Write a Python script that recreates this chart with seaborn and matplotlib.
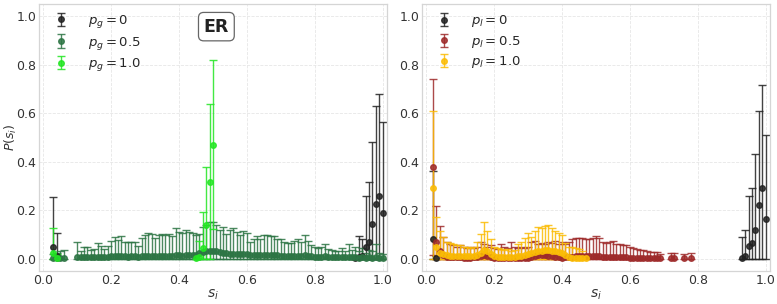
import matplotlib
matplotlib.use("Agg")
import matplotlib.pyplot as plt
import numpy as np
import seaborn as sns

# ---------------- data ----------------
# left panel (ER, p_g)
g0_s = [0.03, 0.04, 0.92, 0.93, 0.94, 0.95, 0.96, 0.97, 0.98, 0.99, 1.00]
g0_mean = [0.047, 0.012, 0.004, 0.008, 0.010, 0.050, 0.070, 0.143, 0.227, 0.260, 0.190]
g0_top = [0.256, 0.104, 0.010, 0.093, 0.080, 0.260, 0.316, 0.480, 0.630, 0.680, 0.565]

g5_s = [0.03, 0.04, 0.05, 0.06] + list(np.round(np.arange(10, 101) / 100, 2))
g5_mean = [0.005, 0.005, 0.004, 0.005,
           0.008, 0.006, 0.007, 0.006, 0.006, 0.007, 0.008, 0.007, 0.006, 0.008,
           0.010, 0.011, 0.010, 0.012, 0.010, 0.009, 0.010, 0.010, 0.009, 0.011,
           0.012, 0.013, 0.012, 0.011, 0.012, 0.013, 0.012, 0.013, 0.012, 0.015,
           0.014, 0.013, 0.015, 0.014, 0.014, 0.016, 0.022, 0.026, 0.030, 0.032,
           0.032, 0.030, 0.027, 0.025, 0.022, 0.020, 0.021, 0.019, 0.018, 0.020,
           0.018, 0.014, 0.016, 0.017, 0.015, 0.016, 0.016, 0.015, 0.016, 0.014,
           0.013, 0.012, 0.012, 0.011, 0.012, 0.013, 0.012, 0.014, 0.012, 0.010,
           0.009, 0.009, 0.008, 0.010, 0.008, 0.007, 0.006, 0.006, 0.007, 0.006,
           0.008, 0.006, 0.007, 0.005, 0.006, 0.005, 0.006, 0.005, 0.007, 0.005, 0.004]
g5_top = [0.020, 0.025, 0.030, 0.035,
          0.068, 0.031, 0.048, 0.048, 0.036, 0.042, 0.066, 0.052, 0.042, 0.054,
          0.075, 0.090, 0.077, 0.093, 0.069, 0.069, 0.069, 0.069, 0.054, 0.085,
          0.097, 0.107, 0.103, 0.085, 0.096, 0.100, 0.096, 0.100, 0.093, 0.128,
          0.112, 0.107, 0.120, 0.112, 0.107, 0.096, 0.100, 0.130, 0.140, 0.150,
          0.150, 0.140, 0.120, 0.130, 0.100, 0.118, 0.125, 0.111, 0.097, 0.114,
          0.104, 0.070, 0.082, 0.093, 0.080, 0.097, 0.096, 0.093, 0.093, 0.082,
          0.080, 0.070, 0.066, 0.063, 0.072, 0.083, 0.070, 0.097, 0.072, 0.056,
          0.048, 0.045, 0.048, 0.059, 0.042, 0.036, 0.031, 0.031, 0.045, 0.031,
          0.059, 0.035, 0.050, 0.030, 0.045, 0.025, 0.035, 0.030, 0.060, 0.025, 0.020]

g1_s = [0.03, 0.04, 0.45, 0.46, 0.47, 0.48, 0.49, 0.50]
g1_mean = [0.022, 0.005, 0.005, 0.008, 0.045, 0.140, 0.315, 0.470]
g1_top = [0.128, 0.020, 0.010, 0.073, 0.194, 0.379, 0.637, 0.819]

# right panel (p_l)
l0_s = [0.02, 0.03, 0.93, 0.94, 0.95, 0.96, 0.97, 0.98, 0.99, 1.00]
l0_mean = [0.082, 0.005, 0.005, 0.010, 0.052, 0.063, 0.120, 0.220, 0.290, 0.162]
l0_top = [0.360, 0.012, 0.090, 0.120, 0.258, 0.290, 0.430, 0.608, 0.715, 0.508]

l5_s = list(np.round(np.arange(2, 70) / 100, 2)) + [0.72, 0.73, 0.76, 0.78]
l5_mean = [0.378, 0.070, 0.030, 0.015, 0.009, 0.008, 0.007, 0.006, 0.006, 0.005,
           0.005, 0.005, 0.006, 0.008, 0.012, 0.014, 0.010, 0.006, 0.004, 0.005,
           0.005, 0.004, 0.005, 0.005, 0.005, 0.004, 0.005, 0.005, 0.005, 0.008,
           0.012, 0.015, 0.016, 0.014, 0.012, 0.010, 0.008, 0.006, 0.005, 0.006,
           0.008, 0.009, 0.010, 0.011, 0.012, 0.012, 0.011, 0.011, 0.010, 0.010,
           0.009, 0.009, 0.008, 0.008, 0.007, 0.006, 0.006, 0.006, 0.005, 0.005,
           0.005, 0.005, 0.004, 0.004, 0.004, 0.004, 0.004, 0.004,
           0.005, 0.005, 0.005, 0.005]
l5_top = [0.739, 0.217, 0.134, 0.090, 0.070, 0.060, 0.055, 0.050, 0.055, 0.050,
          0.045, 0.050, 0.045, 0.050, 0.070, 0.060, 0.050, 0.055, 0.045, 0.040,
          0.060, 0.050, 0.045, 0.068, 0.050, 0.045, 0.050, 0.045, 0.050, 0.070,
          0.075, 0.060, 0.065, 0.060, 0.070, 0.065, 0.075, 0.060, 0.070, 0.060,
          0.070, 0.082, 0.086, 0.084, 0.084, 0.080, 0.080, 0.084, 0.093, 0.084,
          0.070, 0.066, 0.070, 0.075, 0.061, 0.061, 0.055, 0.055, 0.048, 0.045,
          0.041, 0.038, 0.034, 0.031, 0.027, 0.027, 0.027, 0.020,
          0.022, 0.022, 0.020, 0.025]

l1_s = list(np.round(np.arange(2, 48) / 100, 2))
l1_mean = [0.290, 0.050, 0.025, 0.018, 0.015, 0.013, 0.012, 0.012, 0.011, 0.010,
           0.010, 0.010, 0.012, 0.015, 0.025, 0.035, 0.030, 0.020, 0.012, 0.008,
           0.007, 0.006, 0.006, 0.006, 0.007, 0.010, 0.013, 0.016, 0.020, 0.022,
           0.026, 0.030, 0.032, 0.034, 0.035, 0.033, 0.030, 0.027, 0.022, 0.015,
           0.008, 0.005, 0.004, 0.004, 0.003, 0.003]
l1_top = [0.608, 0.173, 0.114, 0.090, 0.070, 0.065, 0.060, 0.055, 0.058, 0.050,
          0.050, 0.045, 0.050, 0.070, 0.100, 0.150, 0.116, 0.082, 0.050, 0.045,
          0.040, 0.035, 0.040, 0.030, 0.035, 0.060, 0.070, 0.085, 0.104, 0.090,
          0.114, 0.132, 0.128, 0.134, 0.141, 0.128, 0.114, 0.107, 0.097, 0.066,
          0.050, 0.048, 0.045, 0.040, 0.030, 0.020]

left_series = [
    (g0_s, g0_mean, g0_top, "#222222", r"$p_g = 0$"),
    (g5_s, g5_mean, g5_top, "#2d7544", r"$p_g = 0.5$"),
    (g1_s, g1_mean, g1_top, "#22e622", r"$p_g = 1.0$"),
]
right_series = [
    (l0_s, l0_mean, l0_top, "#222222", r"$p_l = 0$"),
    (l5_s, l5_mean, l5_top, "#9e2a2a", r"$p_l = 0.5$"),
    (l1_s, l1_mean, l1_top, "#fbbc05", r"$p_l = 1.0$"),
]

# ---------------- plotting ----------------
sns.set_theme(style="whitegrid")
plt.rcParams["font.family"] = ["DejaVu Sans"]
plt.rcParams["mathtext.fontset"] = "dejavusans"

fig = plt.figure(figsize=(7.77, 3.04), dpi=100)
ax1 = fig.add_axes([0.050, 0.109, 0.448, 0.878])
ax2 = fig.add_axes([0.543, 0.109, 0.448, 0.878])


def draw_panel(ax, series):
    for s, mean, top, color, label in series:
        mean = np.array(mean)
        top = np.array(top)
        up = top - mean
        low = np.minimum(up, mean)
        ax.errorbar(s, mean, yerr=[low, up], fmt="o", color=color, ms=4,
                    mec=color, alpha=0.85, elinewidth=1.0, capsize=2.8,
                    capthick=1.0, label=label)
    ax.set_xlim(-0.013, 1.013)
    ax.set_ylim(-0.05, 1.05)
    ax.set_xticks([0.0, 0.2, 0.4, 0.6, 0.8, 1.0])
    ax.set_yticks([0.0, 0.2, 0.4, 0.6, 0.8, 1.0])
    ax.grid(True, color="#e6e6e6", linestyle="--", linewidth=0.6)
    for sp in ax.spines.values():
        sp.set_color("#d5d5d5")
        sp.set_linewidth(0.9)
    ax.tick_params(axis="both", labelsize=9, colors="#333333", pad=2, length=0)
    ax.set_xlabel(r"$s_i$", fontsize=10, color="#333333", labelpad=1)
    ax.legend(loc="upper left", frameon=False, fontsize=9.5,
              borderaxespad=0.3, labelspacing=0.35, handletextpad=1.0)


draw_panel(ax1, left_series)
draw_panel(ax2, right_series)
ax1.set_ylabel(r"$P(s_i)$", fontsize=9, color="#333333")
ax1.yaxis.set_label_coords(-0.056, 0.5)

ax1.text(0.51, 0.915, "ER", transform=ax1.transAxes, ha="center", va="center",
         fontsize=12.5, fontweight="bold", color="#222222",
         bbox=dict(boxstyle="round,pad=0.3", facecolor="white",
                   edgecolor="#666666", linewidth=0.9))

fig.savefig("out.png", dpi=100)
